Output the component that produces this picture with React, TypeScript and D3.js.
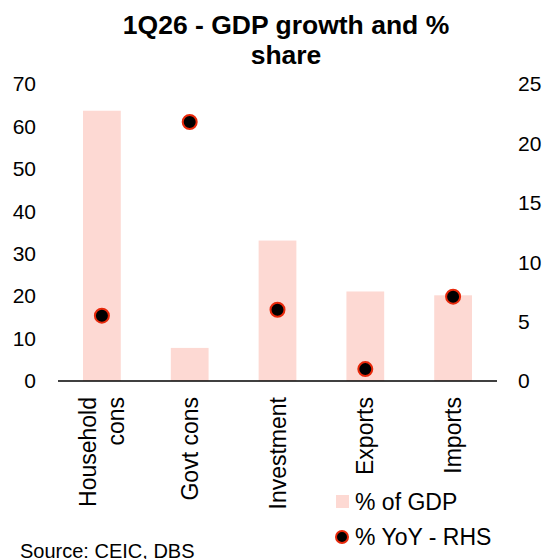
import React, { useEffect, useRef } from 'react';
import * as d3 from 'd3';

const categories = ['Household cons', 'Govt cons', 'Investment', 'Exports', 'Imports'];
const shareOfGdp = [63.7, 7.8, 33.1, 21.1, 20.2];
const yoyGrowth = [5.5, 21.8, 6.0, 1.0, 7.1];
const leftTicks = [0, 10, 20, 30, 40, 50, 60, 70];
const rightTicks = [0, 5, 10, 15, 20, 25];

const App: React.FC = () => {
  const svgRef = useRef<SVGSVGElement>(null);

  useEffect(() => {
    if (!svgRef.current) return;
    const width = 547;
    const height = 559;
    const margin = { top: 84, right: 50, bottom: 178, left: 58 };
    const font = 'Liberation Sans, Arial, sans-serif';

    d3.select(svgRef.current).selectAll('*').remove();
    const svg = d3.select(svgRef.current).attr('width', width).attr('height', height);

    const x = d3.scaleBand()
      .domain(categories)
      .range([margin.left, width - margin.right])
      .paddingInner(0.57)
      .paddingOuter(0.285);
    const yL = d3.scaleLinear().domain([0, 70]).range([height - margin.bottom, margin.top]);
    const yR = d3.scaleLinear().domain([0, 25]).range([height - margin.bottom, margin.top]);

    // title
    const title = svg.append('text')
      .attr('text-anchor', 'middle')
      .style('font-family', font)
      .style('font-weight', 'bold')
      .style('font-size', '26.5px')
      .attr('fill', '#000');
    title.append('tspan').attr('x', 286).attr('y', 34).text('1Q26 - GDP growth and %');
    title.append('tspan').attr('x', 286).attr('y', 64).text('share');

    // bars
    svg.selectAll('.bar')
      .data(shareOfGdp)
      .enter()
      .append('rect')
      .attr('x', (_, i) => x(categories[i])!)
      .attr('y', d => yL(d))
      .attr('width', x.bandwidth())
      .attr('height', d => yL(0) - yL(d))
      .attr('fill', '#FDD9D3');

    // baseline
    svg.append('line')
      .attr('x1', margin.left)
      .attr('x2', width - margin.right)
      .attr('y1', yL(0))
      .attr('y2', yL(0))
      .attr('stroke', '#000')
      .attr('stroke-width', 1.5);

    // dots
    svg.selectAll('.dot')
      .data(yoyGrowth)
      .enter()
      .append('circle')
      .attr('cx', (_, i) => x(categories[i])! + x.bandwidth() / 2)
      .attr('cy', d => yR(d))
      .attr('r', 7)
      .attr('fill', '#000')
      .attr('stroke', '#E8290B')
      .attr('stroke-width', 2);

    // left axis labels
    svg.selectAll('.lt')
      .data(leftTicks)
      .enter()
      .append('text')
      .attr('x', 36)
      .attr('y', d => yL(d))
      .attr('dy', '0.35em')
      .attr('text-anchor', 'end')
      .style('font-family', font)
      .style('font-size', '21px')
      .text(d => d);

    // right axis labels
    svg.selectAll('.rt')
      .data(rightTicks)
      .enter()
      .append('text')
      .attr('x', 518)
      .attr('y', d => yR(d))
      .attr('dy', '0.35em')
      .attr('text-anchor', 'start')
      .style('font-family', font)
      .style('font-size', '21px')
      .text(d => d);

    // category labels, rotated
    categories.forEach(c => {
      const cx = x(c)! + x.bandwidth() / 2;
      const words = c === 'Household cons' ? ['Household', 'cons'] : [c];
      const lineH = 28;
      const g = svg.append('g').attr('transform', `translate(${cx},397) rotate(-90)`);
      words.forEach((w, i) => {
        g.append('text')
          .attr('x', 0)
          .attr('y', (i - (words.length - 1) / 2) * lineH)
          .attr('dy', '0.35em')
          .attr('text-anchor', 'end')
          .style('font-family', font)
          .style('font-size', '23px')
          .text(w);
      });
    });

    // legend
    svg.append('rect').attr('x', 336).attr('y', 495).attr('width', 13).attr('height', 13).attr('fill', '#FDD9D3');
    svg.append('text').attr('x', 355).attr('y', 510)
      .style('font-family', font).style('font-size', '23px').text('% of GDP');
    svg.append('circle').attr('cx', 342).attr('cy', 537).attr('r', 6)
      .attr('fill', '#000').attr('stroke', '#E8290B').attr('stroke-width', 2);
    svg.append('text').attr('x', 355).attr('y', 545)
      .style('font-family', font).style('font-size', '23px').text('% YoY - RHS');

    // source
    svg.append('text').attr('x', 20).attr('y', 558)
      .style('font-family', font).style('font-size', '20px').text('Source: CEIC, DBS');
  }, []);

  return (
    <svg
      ref={svgRef}
      style={{ position: 'absolute', left: 0, top: 0, background: '#fff', display: 'block' }}
    />
  );
};

export default App;
